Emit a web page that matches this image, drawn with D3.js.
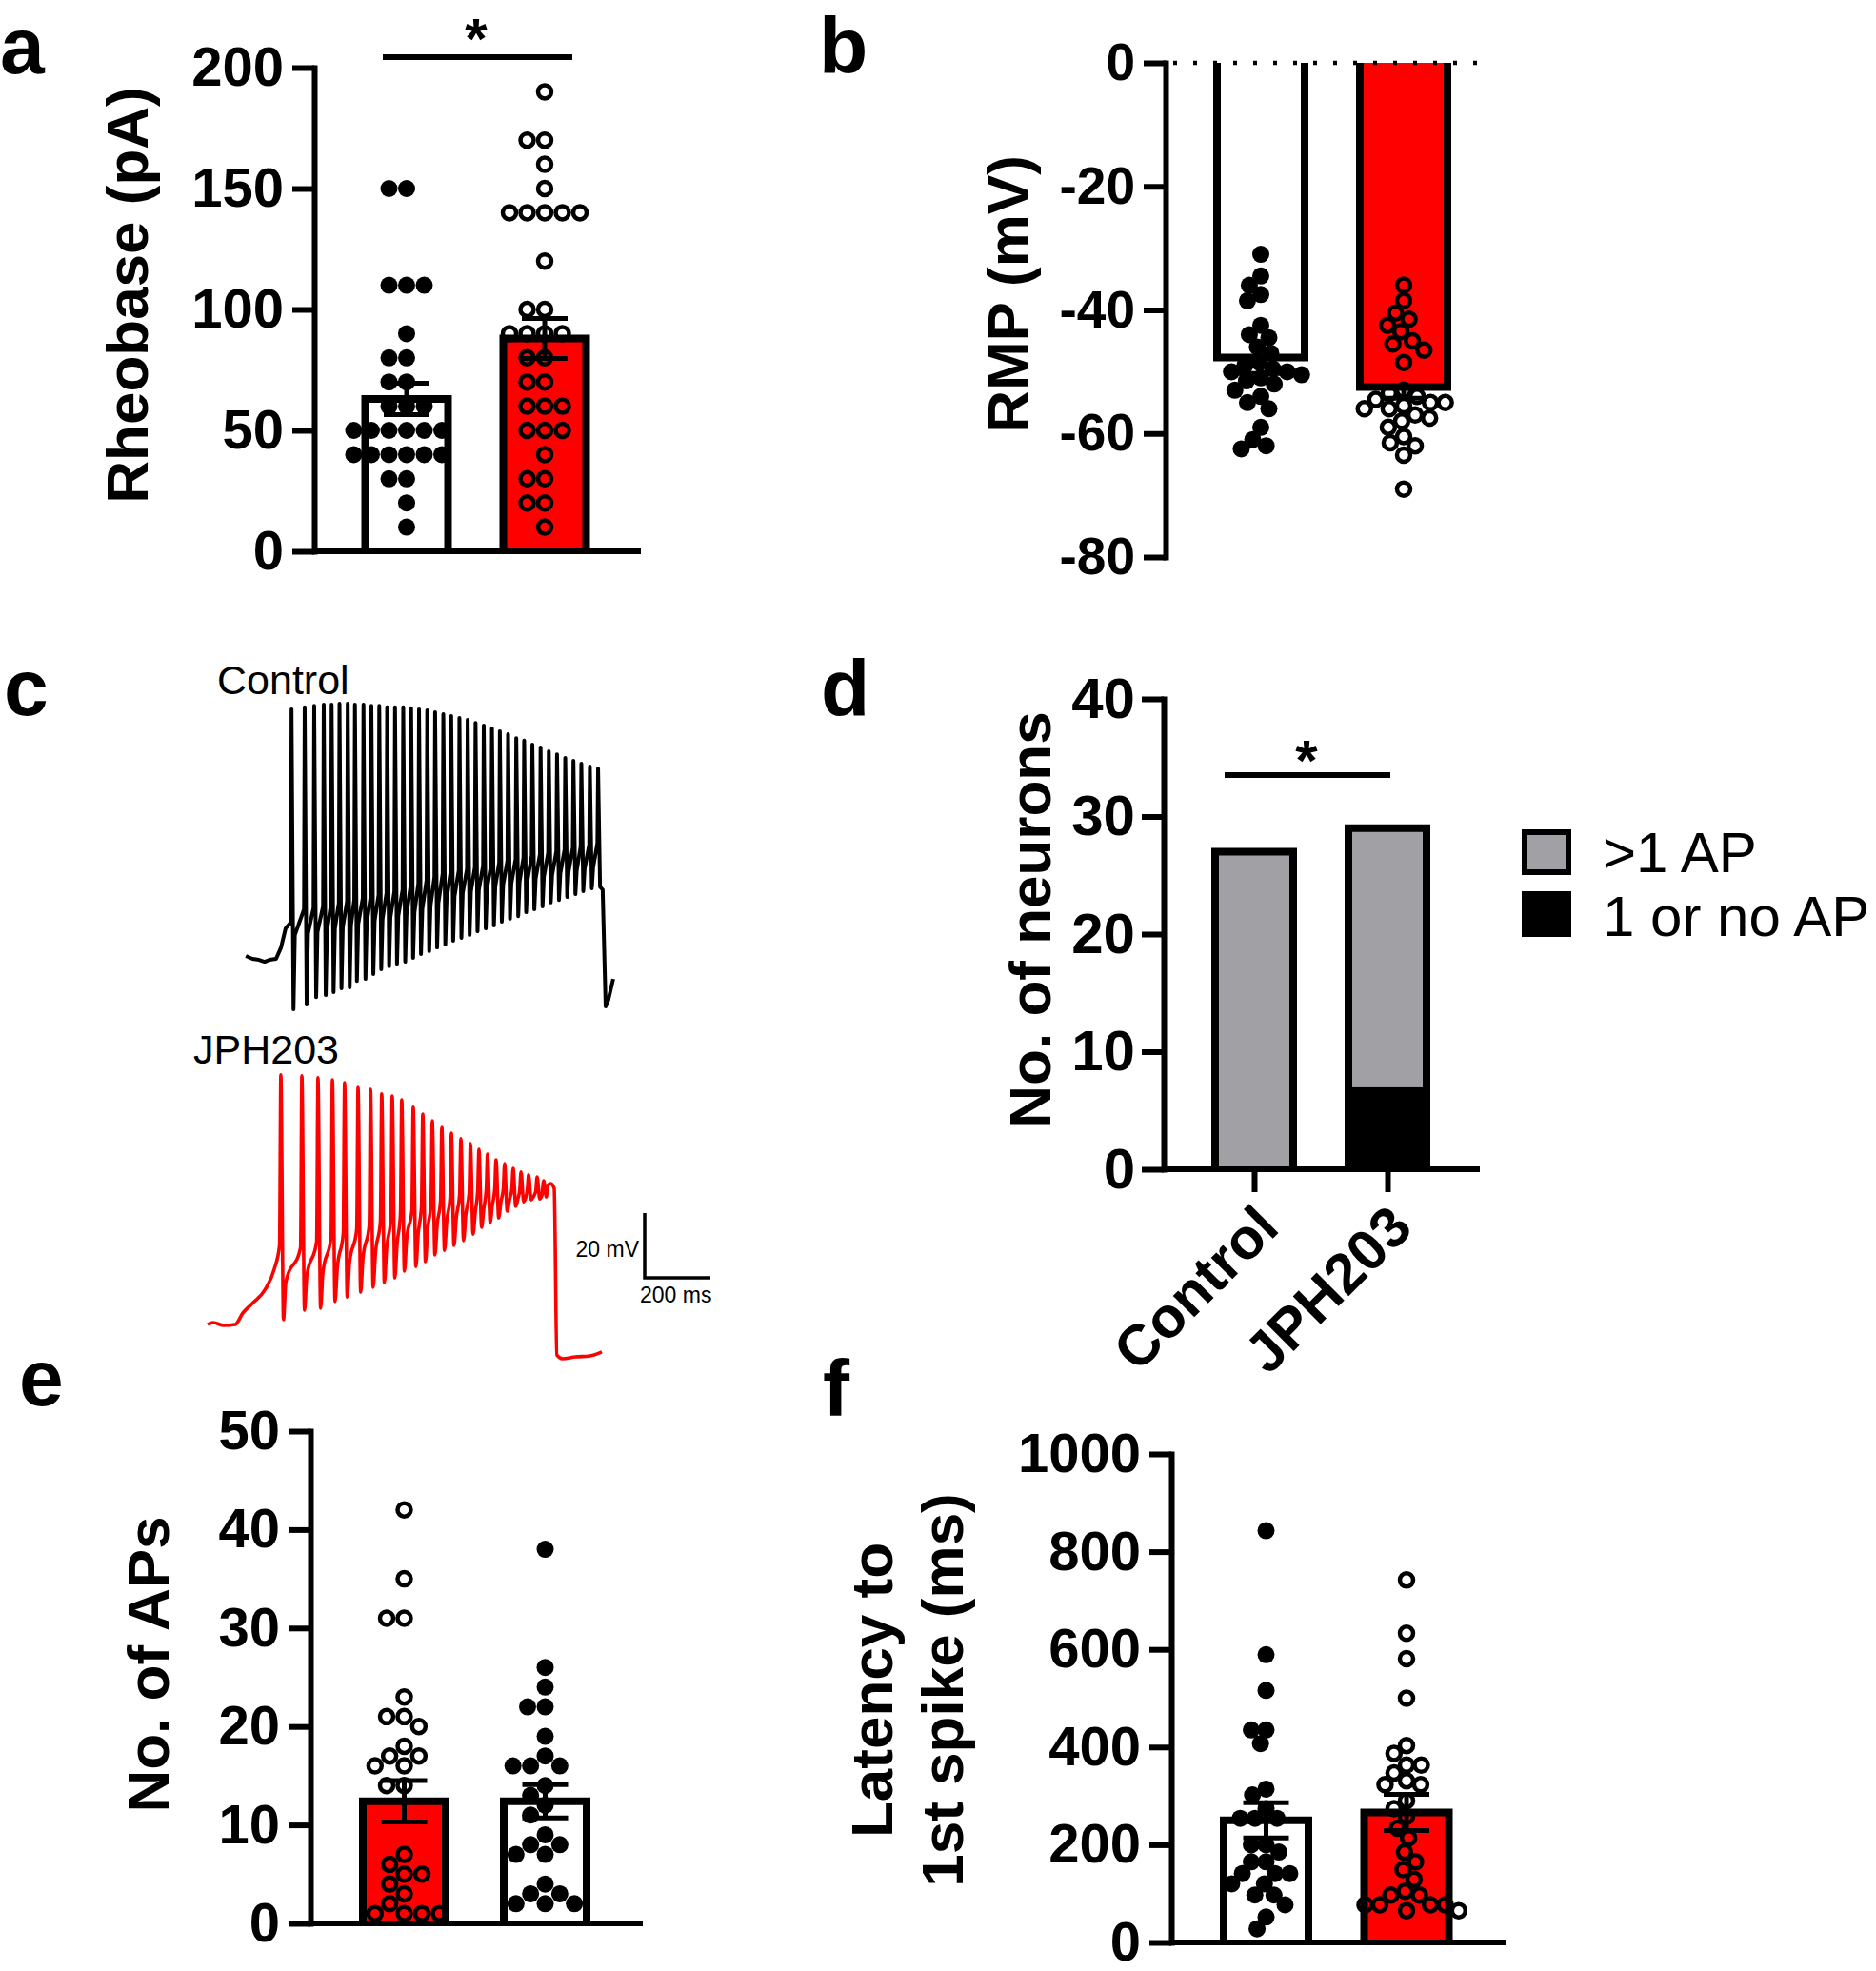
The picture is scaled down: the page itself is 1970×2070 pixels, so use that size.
<!DOCTYPE html>
<html>
<head>
<meta charset="utf-8">
<script src="https://cdn.jsdelivr.net/npm/d3@7"></script>
<style>
  body { margin: 0; background: #fff; }
  svg { display: block; font-family: 'Liberation Sans', Arial, sans-serif; }
</style>
</head>
<body>
<script>
const groups = ['Control', 'JPH203']

// a - rheobase (pA)
const rheoCtrl = [150, 150, 110, 110, 110, 90, 80, 80, 70, 70, 60, 60, 60, 50, 50, 50, 50, 50, 50, 40, 40, 40, 40, 40, 40, 30, 30, 20, 10]
const rheoJph = [190, 170, 170, 160, 150, 140, 140, 140, 140, 140, 120, 100, 100, 90, 90, 90, 90, 80, 80, 70, 70, 60, 60, 60, 50, 50, 50, 40, 30, 30, 20, 20, 10]
const rheoMean = [63, 88]
const rheoSem = [6.5, 8.3]
const rheoTicks = [0, 50, 100, 150, 200]

// b - resting membrane potential (mV)
const rmpCtrl = [-31, -34.5, -36, -37.5, -38.5, -42.5, -44, -44.5, -46, -47, -48.5, -49, -49.5, -50, -50, -50.5, -51, -51.5, -52, -53, -54, -55, -56, -59, -61, -62, -62.5]
const rmpJph = [-36, -38.5, -40.5, -41.5, -42.5, -43.5, -45, -45.5, -46.5, -48.5, -53, -53.5, -54, -54.5, -55, -55, -55.5, -56, -56, -57, -57.5, -58, -59, -60.5, -61.5, -62, -63.5, -69]
const rmpMean = [-47.7, -52.5]
const rmpSem = [2.6, 1.8]
const rmpTicks = [0, -20, -40, -60, -80]

// c - example traces (ms, mV)
const ctrlPre = [[-11, -64.4], [9, -65.3], [29, -65.6], [46, -66.2], [61, -65.6], [81, -65.3], [96, -61.8], [110, -55.9]]
const ctrlSpikeT = [128, 168, 197, 226, 250, 274, 299, 321, 347, 371, 395, 419, 443, 468, 492, 516, 541, 565, 590, 614, 639, 664, 688, 713, 738, 762, 787, 812, 836, 861, 886, 911, 936, 961, 986, 1010, 1036, 1061]
const ctrlThresh = [-54, -50, -49.5, -49, -48.5, -48, -47.5, -47, -46.5, -46, -45.5, -45, -44.5, -44, -43, -42, -41, -40, -39, -38.5, -38, -37.5, -37, -36.5, -36, -35.5, -35, -34.5, -34, -33.5, -33, -32.5, -32, -31.5, -31, -30.5, -30, -29.5]
const ctrlPeak = [11.8, 12.4, 12.9, 13.2, 13.2, 13.5, 13.5, 13.2, 13.2, 12.9, 12.9, 12.4, 12.4, 12.4, 12.1, 11.8, 11.5, 10.9, 10.3, 9.7, 9.1, 8.5, 7.6, 6.8, 5.9, 5.0, 4.1, 2.9, 2.1, 0.9, 0.0, -1.2, -2.1, -3.2, -4.1, -5.0, -5.9, -6.5]
const ctrlTrough = [-80.9, -79.4, -77.1, -76.5, -75.6, -74.4, -74.1, -72.1, -71.5, -70, -68.5, -67.6, -66.8, -66.2, -65, -63.8, -62.9, -61.8, -60.9, -59.7, -58.8, -57.9, -56.8, -55.9, -55, -53.8, -52.9, -52.1, -50.9, -50, -49.1, -47.9, -47.1, -46.2, -45.3, -44.4, -43.5, -43]
const ctrlRecover = [-58, -57.5, -57, -56.5, -56, -55.5, -55, -54.5, -54, -53.5, -53, -52.5, -52, -51.5, -51, -50, -49, -48, -47, -46, -45, -44.5, -44, -43.5, -43, -42.5, -42, -41.5, -41, -40.5, -40, -39.5, -39, -38.5, -38, -37.5, -37, -37]
const ctrlTail = [[1075, -44], [1084, -80], [1092, -78], [1107, -71.5]]

const jphPre = [[0, -65], [17, -64.4], [49, -65.3], [84, -65], [107, -61.5], [136, -58.5], [174, -54.4], [203, -47.9]]
const jphSpikeT = [223, 287, 336, 380, 417, 458, 496, 530, 562, 591, 626, 655, 684, 713, 742, 771, 800, 826, 852, 878, 904, 930, 954, 977, 1003, 1023]
const jphThresh = [-40.6, -41.2, -39.4, -37.9, -36.8, -35.6, -34.4, -33.2, -32.1, -30.9, -29.7, -28.5, -27.6, -26.8, -25.9, -25, -24.4, -23.8, -23.5, -23.2, -23.2, -23.2, -23.5, -23.5, -23.8, -23.8]
const jphPeak = [12.1, 11.8, 11.2, 10.6, 9.7, 8.2, 7.6, 6.2, 5.6, 4.4, 2.1, 0, -2.1, -4.1, -5.9, -7.6, -9.1, -10.9, -12.4, -14.1, -15.3, -16.8, -17.9, -18.8, -19.4, -20.6]
const jphTrough = [-63.5, -60.6, -60, -57.9, -56.5, -55, -53.5, -52.1, -50.6, -48.5, -47.1, -45.6, -43.5, -42.1, -40.6, -39.1, -37.1, -35, -33.5, -32.1, -30, -28.5, -27.1, -26.5, -26.2, -25.6]
const jphRecover = [-52, -50, -49, -47.5, -46, -44.5, -43, -41.5, -40, -38.5, -37, -35.5, -34, -33, -32, -31, -30, -29, -28, -27, -26.5, -26, -25.5, -25.5, -25, -25]
const jphTail = [[1035, -22], [1045, -21.5], [1055, -23], [1063, -74.4], [1080, -75.6], [1120, -75], [1160, -74.8], [1200, -73.5]]

// d - neurons firing
const apMore = [27, 22]
const apOneOrNone = [0, 7]
const neuronTicks = [0, 10, 20, 30, 40]
const legendLabels = ['>1 AP', '1 or no AP']

// e - number of APs (JPH203 bar first, Control second)
const apsJph = [42, 35, 31, 31, 23, 21, 21, 20, 18, 17, 17, 16, 16, 14, 14, 7, 6, 5, 5, 4, 3, 2, 1, 1, 1, 1]
const apsCtrl = [38, 26, 24, 22, 22, 19, 17, 16, 16, 16, 14, 13, 12, 11, 9, 8, 8, 7, 7, 4, 3, 3, 2, 2, 2]
const apsMean = [12.4, 12.4]
const apsSem = [2.1, 1.7]
const apsTicks = [0, 10, 20, 30, 40, 50]

// f - latency to first spike (ms)
const latCtrl = [843, 589, 516, 435, 435, 407, 314, 302, 274, 254, 254, 254, 200, 200, 185, 165, 165, 141, 141, 141, 120, 120, 97, 97, 77, 52, 28]
const latJph = [742, 633, 581, 500, 403, 387, 363, 363, 347, 331, 323, 323, 290, 274, 258, 234, 214, 185, 165, 149, 129, 105, 97, 97, 77, 77, 77, 77, 65, 65]
const latMean = [250, 266]
const latSem = [36, 37]
const latTicks = [0, 200, 400, 600, 800, 1000]

const RED = '#ff0000'
const GREY = '#a1a1a5'
const LW = 6
const FONT = "'Liberation Sans', Arial, sans-serif"

const svg = d3.select('body').append('svg').attr('width', 1970).attr('height', 2070)
svg.append('rect').attr('width', 1970).attr('height', 2070).attr('fill', '#fff')

// simple beeswarm: each point goes to the free x offset nearest the centre
const swarm = (values, y, d) => {
    const placed = []
    ;[...values].sort((a, b) => b - a).forEach((v) => {
        const py = y(v)
        const blocks = placed.filter((p) => Math.abs(p.y - py) < d).map((p) => {
            const dx = Math.sqrt(d * d - (p.y - py) ** 2)
            return [p.x - dx, p.x + dx]
        })
        const free = [0, ...blocks.flat()].filter((c) => blocks.every((b) => c <= b[0] + 1e-6 || c >= b[1] - 1e-6))
        free.sort((a, b) => Math.abs(a) - Math.abs(b) || a - b)
        placed.push({ v, y: py, x: free[0] })
    })
    return placed
}

const styleAxis = (ax, size) => {
    ax.attr('font-size', size).attr('font-family', FONT).attr('font-weight', 'bold')
    ax.select('.domain').attr('stroke-width', LW).attr('stroke-linecap', 'square')
    ax.selectAll('.tick line').attr('stroke-width', LW)
    ax.selectAll('.tick text').attr('fill', '#000')
}

const yTitle = (lines, x0, y0) => {
    lines.forEach((t, i) => {
        svg.append('text').text(t)
            .attr('transform', `translate(${x0 + i * 74},${y0}) rotate(-90)`)
            .attr('text-anchor', 'middle').attr('font-size', 62).attr('font-weight', 'bold')
    })
}

const dotBarPanel = (p) => {
    const g = svg.append('g')
    const x = d3.scalePoint().domain(d3.range(p.means.length)).range(p.centers)
    const base = p.y(0)
    const bw = p.barW - 8

    g.selectAll('.bar').data(p.means).join('rect')
        .attr('x', (d, i) => x(i) - bw / 2)
        .attr('y', (d) => Math.min(p.y(d), base))
        .attr('width', bw)
        .attr('height', (d) => Math.abs(p.y(d) - base))
        .attr('fill', (d, i) => p.fills[i])
    g.selectAll('.outline').data(p.means).join('path')
        .attr('d', (d, i) => `M${x(i) - bw / 2},${base}V${p.y(d)}H${x(i) + bw / 2}V${base}`)
        .attr('fill', 'none').attr('stroke', '#000').attr('stroke-width', 8)

    p.points.forEach((vals, i) => {
        const filled = p.filled[i]
        g.append('g').selectAll('circle').data(swarm(vals, p.y, p.gap || 18.5)).join('circle')
            .attr('cx', (d) => x(i) + d.x)
            .attr('cy', (d) => d.y)
            .attr('r', filled ? 9 : 7)
            .attr('fill', filled ? '#000' : 'none')
            .attr('stroke', filled ? 'none' : '#000')
            .attr('stroke-width', 4.5)
    })

    if (p.zeroDots) {
        g.append('line').attr('x1', p.axisX + 8).attr('x2', p.zeroDots).attr('y1', base).attr('y2', base)
            .attr('stroke', '#000').attr('stroke-width', 4.5).attr('stroke-dasharray', '4 17')
    }

    p.means.forEach((m, i) => {
        const s = p.sems[i]
        const out = m >= 0 ? m + s : m - s
        const ends = p.errBoth ? [out, m >= 0 ? m - s : m + s] : [out]
        ends.forEach((e) => {
            g.append('line').attr('x1', x(i)).attr('x2', x(i)).attr('y1', p.y(m)).attr('y2', p.y(e))
                .attr('stroke', '#000').attr('stroke-width', 5)
            g.append('line').attr('x1', x(i) - 24).attr('x2', x(i) + 24).attr('y1', p.y(e)).attr('y2', p.y(e))
                .attr('stroke', '#000').attr('stroke-width', 5)
        })
    })

    const ax = g.append('g').attr('transform', `translate(${p.axisX},0)`)
        .call(d3.axisLeft(p.y).tickValues(p.ticks).tickSize(23).tickSizeOuter(0).tickPadding(9).tickFormat((d) => String(d)))
    styleAxis(ax, p.tickFont || 58)

    if (p.xEnd) {
        g.append('line').attr('x1', p.axisX).attr('x2', p.xEnd).attr('y1', base).attr('y2', base)
            .attr('stroke', '#000').attr('stroke-width', LW)
    }
}

// ---- a
const yA = d3.scaleLinear().domain([0, 200]).range([579, 71])
dotBarPanel({
    y: yA, ticks: rheoTicks, axisX: 330, xEnd: 673, centers: [427, 572], barW: 95,
    fills: ['#fff', RED], means: rheoMean, sems: rheoSem,
    points: [rheoCtrl, rheoJph], filled: [true, false], errBoth: true
})
yTitle(['Rheobase (pA)'], 155, 310)
svg.append('line').attr('x1', 402).attr('x2', 601).attr('y1', 60).attr('y2', 60).attr('stroke', '#000').attr('stroke-width', 6)
svg.append('text').text('*').attr('x', 500).attr('y', 61).attr('text-anchor', 'middle').attr('font-size', 60).attr('font-weight', 'bold')

// ---- b
const yB = d3.scaleLinear().domain([0, -80]).range([66, 585])
dotBarPanel({
    y: yB, ticks: rmpTicks, axisX: 1224, xEnd: null, zeroDots: 1555, centers: [1324, 1474], barW: 100,
    fills: ['#fff', RED], means: rmpMean, sems: rmpSem, gap: 15.5, tickFont: 55,
    points: [rmpCtrl, rmpJph], filled: [true, false], errBoth: false
})
yTitle(['RMP (mV)'], 1080, 309)

// ---- c traces
const tracePts = (pre, spikeT, thr, peak, trough, rec, tail, up, down, back) => {
    const pts = pre.slice()
    spikeT.forEach((t, i) => {
        pts.push([t - up, thr[i]], [t, peak[i]], [t + down, trough[i]])
        if (i < spikeT.length - 1) pts.push([t + down + back, rec[i]])
    })
    return pts.concat(tail)
}
const xC = d3.scaleLinear().domain([0, 200]).range([262, 331])
const yC = d3.scaleLinear().domain([-65, -45]).range([1006, 938])
const xR = d3.scaleLinear().domain([0, 200]).range([218, 287])
const yR = d3.scaleLinear().domain([-65, -45]).range([1391, 1323])

svg.append('path')
    .attr('d', d3.line().x((d) => xC(d[0])).y((d) => yC(d[1]))(tracePts(ctrlPre, ctrlSpikeT, ctrlThresh, ctrlPeak, ctrlTrough, ctrlRecover, ctrlTail, 2, 6, 4)))
    .attr('fill', 'none').attr('stroke', '#000').attr('stroke-width', 4).attr('stroke-linejoin', 'round')
svg.append('path')
    .attr('d', d3.line().curve(d3.curveMonotoneX).x((d) => xR(d[0])).y((d) => yR(d[1]))(tracePts(jphPre, jphSpikeT, jphThresh, jphPeak, jphTrough, jphRecover, jphTail, 4, 8, 7)))
    .attr('fill', 'none').attr('stroke', RED).attr('stroke-width', 3.6).attr('stroke-linejoin', 'round')

svg.append('text').text('Control').attr('x', 228).attr('y', 729).attr('font-size', 43)
svg.append('text').text('JPH203').attr('x', 203).attr('y', 1117).attr('font-size', 43)

// scale bar: 20 mV / 200 ms
const sbX = 677, sbY = 1342
svg.append('path')
    .attr('d', `M${sbX},${sbY - (yR(-65) - yR(-45))}V${sbY}H${sbX + xR(200) - xR(0)}`)
    .attr('fill', 'none').attr('stroke', '#000').attr('stroke-width', 3.5)
svg.append('text').text('20 mV').attr('x', sbX - 6).attr('y', 1320).attr('text-anchor', 'end').attr('font-size', 23)
svg.append('text').text('200 ms').attr('x', sbX - 5).attr('y', 1368).attr('font-size', 23)

// ---- d stacked bars
const yD = d3.scaleLinear().domain([0, 40]).range([1228, 734])
const xD = d3.scalePoint().domain(groups).range([1317, 1457])
const dBarW = 82
const stackRows = groups.map((gr, i) => ({ group: gr, none: apOneOrNone[i], more: apMore[i] }))
const stacked = d3.stack().keys(['none', 'more'])(stackRows)
const dg = svg.append('g')
dg.selectAll('g.layer').data(stacked).join('g')
    .attr('fill', (s) => (s.key === 'none' ? '#000' : GREY))
    .selectAll('rect').data((s) => s).join('rect')
    .attr('x', (d) => xD(d.data.group) - dBarW / 2)
    .attr('y', (d) => yD(d[1]))
    .attr('width', dBarW)
    .attr('height', (d) => yD(d[0]) - yD(d[1]))
dg.selectAll('.outline').data(stackRows).join('path')
    .attr('d', (d) => `M${xD(d.group) - dBarW / 2},${yD(0)}V${yD(d.none + d.more)}H${xD(d.group) + dBarW / 2}V${yD(0)}`)
    .attr('fill', 'none').attr('stroke', '#000').attr('stroke-width', 8)
const axD = dg.append('g').attr('transform', 'translate(1222,0)')
    .call(d3.axisLeft(yD).tickValues(neuronTicks).tickSize(23).tickSizeOuter(0).tickPadding(7))
styleAxis(axD, 60)
dg.append('line').attr('x1', 1222).attr('x2', 1554).attr('y1', yD(0)).attr('y2', yD(0)).attr('stroke', '#000').attr('stroke-width', LW)
const axDx = dg.append('g').attr('transform', `translate(0,${yD(0)})`)
    .call(d3.axisBottom(xD).tickSize(24).tickSizeOuter(0).tickPadding(0))
styleAxis(axDx, 60)
axDx.select('.domain').remove()
axDx.selectAll('.tick text')
    .attr('text-anchor', 'end').attr('dy', null).attr('y', 0)
    .attr('transform', 'translate(28,64) rotate(-45)')
yTitle(['No. of neurons'], 1103, 966)
svg.append('line').attr('x1', 1286).attr('x2', 1460).attr('y1', 814).attr('y2', 814).attr('stroke', '#000').attr('stroke-width', 6)
svg.append('text').text('*').attr('x', 1372).attr('y', 819).attr('text-anchor', 'middle').attr('font-size', 60).attr('font-weight', 'bold')

const lg = svg.append('g').attr('transform', 'translate(1598,871)')
legendLabels.forEach((t, i) => {
    lg.append('rect').attr('x', 3).attr('y', 3 + i * 65).attr('width', 46).attr('height', 42)
        .attr('fill', i === 0 ? GREY : '#000').attr('stroke', '#000').attr('stroke-width', 6)
    lg.append('text').text(t).attr('x', 85).attr('y', 45 + i * 67).attr('font-size', 60)
})

// ---- e
const yE = d3.scaleLinear().domain([0, 50]).range([2020, 1503])
dotBarPanel({
    y: yE, ticks: apsTicks, axisX: 326, xEnd: 675, centers: [424.5, 572.5], barW: 95,
    fills: [RED, '#fff'], means: apsMean, sems: apsSem,
    points: [apsJph, apsCtrl], filled: [false, true], errBoth: true
})
yTitle(['No. of APs'], 177, 1748)

// ---- f
const yF = d3.scaleLinear().domain([0, 1000]).range([2040, 1527])
dotBarPanel({
    y: yF, ticks: latTicks, axisX: 1230, xEnd: 1581, centers: [1329.5, 1477], barW: 97,
    fills: ['#fff', RED], means: latMean, sems: latSem, gap: 15.5,
    points: [latCtrl, latJph], filled: [true, false], errBoth: true
})
yTitle(['Latency to', '1st spike (ms)'], 937, 1775)

// panel letters
const panelLetters = [['a', 0, 77], ['b', 860, 77], ['c', 4, 751], ['d', 862, 752], ['e', 20, 1476], ['f', 864, 1487]]
panelLetters.forEach(([t, x0, y0]) => {
    svg.append('text').text(t).attr('x', x0).attr('y', y0).attr('font-size', 84).attr('font-weight', 'bold')
})
</script>
</body>
</html>
